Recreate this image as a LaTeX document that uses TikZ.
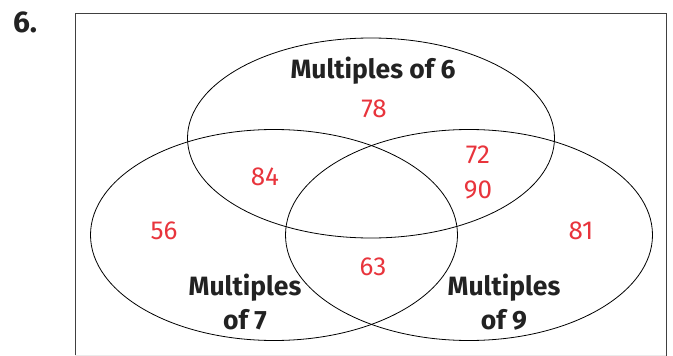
\documentclass[tikz,border=0pt]{standalone}
\usepackage{fontspec}
\setmainfont{Fira Sans}
\usepackage{xcolor}
\usepackage{tikz}
\usetikzlibrary{shapes.geometric}

\definecolor{ansred}{RGB}{232,52,60}
\definecolor{ink}{RGB}{34,34,34}

\begin{document}
\begin{tikzpicture}[
    x=1pt, y=-1pt,
    set/.style={draw, ellipse, inner sep=0pt, line width=0.8pt, minimum width=367pt},
    ans/.style={text=ansred, font=\fontsize{26}{26}\selectfont, inner sep=0pt},
    lbl/.style={text=ink, font=\fontsize{26.5}{34}\selectfont\bfseries, align=center, inner sep=0pt},
]
\useasboundingbox (0,0) rectangle (673,356);

% Question number and frame
\node[lbl, font=\fontsize{30}{30}\selectfont\bfseries] (qnum) at (25,22) {6.};
\draw[line width=1pt, black!75] (75,356) -- (75,13) -- (666,13) -- (666,356);
\draw[line width=0.6pt, black!8] (75,355) -- (666,355);

% The three sets
\node[set, minimum height=200pt] (six) at (371,138) {};
\node[set, minimum height=211pt] (seven) at (274,235) {};
\node[set, minimum height=211pt] (nine) at (469,235) {};

% Set names
\node[lbl] (lsix) at (373,71) {Multiples of 6};
\node[lbl] (lseven) at (245,302) {Multiples\\of 7};
\node[lbl] (lnine) at (504,302) {Multiples\\of 9};

% Numbers in the regions
\node[ans] (n78) at (374,109) {78};
\node[ans] (n84) at (265,177) {84};
\node[ans] (n72) at (478,155) {72};
\node[ans] (n90) at (478,190) {90};
\node[ans] (n56) at (164,231) {56};
\node[ans] (n81) at (581,231) {81};
\node[ans] (n63) at (373,267) {63};

\end{tikzpicture}
\end{document}
